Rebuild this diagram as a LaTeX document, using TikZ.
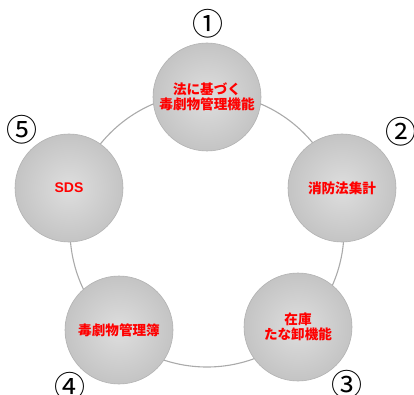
\documentclass[tikz,border=0pt]{standalone}
\usepackage{fontspec}
\newfontfamily\jp{Noto Sans CJK JP}
\newfontfamily\lat{Liberation Sans}
\usetikzlibrary{shadings}
\definecolor{ringgray}{RGB}{170,170,170}
\definecolor{balledge}{RGB}{178,178,178}
\definecolor{ballin}{RGB}{222,222,222}
\definecolor{ballout}{RGB}{196,196,196}
\tikzset{
  ball/.style={circle, minimum size=108pt, inner sep=0pt, draw=balledge, line width=0.6pt,
    shading=radial, inner color=ballin, outer color=ballout,
    text=red, font=\jp\bfseries\fontsize{13.6}{15}\selectfont, align=center},
  num/.style={font=\jp\fontsize{31}{31}\selectfont, inner sep=0pt, text=black},
  ring/.style={circle, draw=ringgray, line width=1.1pt, minimum size=274pt, inner sep=0pt}
}
\begin{document}
\begin{tikzpicture}[x=1pt,y=-1pt]
\useasboundingbox (0,0) rectangle (414,395);
\node[ring] (ring) at (207,230) {};
\node[ball] (b1) at (207,97) {法に基づく\\毒劇物管理機能};
\node[ball] (b2) at (342,188) {消防法集計};
\node[ball] (b3) at (298,327) {在庫\\たな卸機能};
\node[ball] (b4) at (119,330) {毒劇物管理簿};
\node[ball, font=\lat\bfseries\fontsize{14}{16}\selectfont] (b5) at (69,188) {SDS};
\node[num] (n1) at (208,24) {①};
\node[num] (n2) at (401,132) {②};
\node[num] (n3) at (347,385) {③};
\node[num] (n4) at (70,387) {④};
\node[num] (n5) at (22,130) {⑤};
\end{tikzpicture}
\end{document}
